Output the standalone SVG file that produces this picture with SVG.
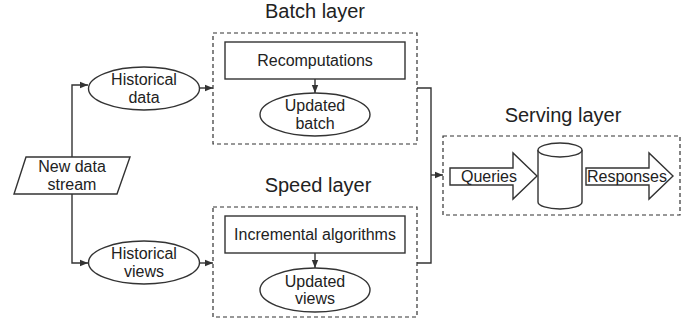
<svg xmlns="http://www.w3.org/2000/svg" width="700" height="323" viewBox="0 0 700 323">
<defs>
<style>
.s{fill:#fff;stroke:#333;stroke-width:1.4}
.d{fill:none;stroke:#333;stroke-width:1.2;stroke-dasharray:4 3}
.c{fill:none;stroke:#333;stroke-width:1.4}
.t{font-family:"Liberation Sans",Arial,sans-serif;font-size:16px;fill:#222;text-anchor:middle}
.h{font-family:"Liberation Sans",Arial,sans-serif;font-size:20px;fill:#222;text-anchor:middle}
</style>
<marker id="ar" viewBox="0 0 10 10" refX="10" refY="5" markerWidth="8" markerHeight="8" markerUnits="userSpaceOnUse" orient="auto">
<path d="M0,1 L10,5 L0,9 z" fill="#333"/>
</marker>
</defs>
<rect width="700" height="323" fill="#fff"/>
<g id="connectors">
<path class="c" d="M72,157 V85 H88" marker-end="url(#ar)"/>
<path class="c" d="M72,194 V263 H88" marker-end="url(#ar)"/>
<path class="c" d="M199,88 H213" marker-end="url(#ar)"/>
<path class="c" d="M199,263 H213" marker-end="url(#ar)"/>
<path class="c" d="M315,79 V93" marker-end="url(#ar)"/>
<path class="c" d="M315,253 V268" marker-end="url(#ar)"/>
<path class="c" d="M417,88 H431 V263 H417"/>
<path class="c" d="M431,175 H443" marker-end="url(#ar)"/>
</g>
<g id="batch-layer">
<text class="h" x="315" y="18">Batch layer</text>
<rect class="d" x="213" y="33" width="204" height="111"/>
</g>
<g id="speed-layer">
<text class="h" x="318" y="192">Speed layer</text>
<rect class="d" x="213" y="207" width="204" height="110"/>
</g>
<g id="serving-layer">
<text class="h" x="563" y="122">Serving layer</text>
<rect class="d" x="443" y="136" width="237" height="79"/>
</g>
<g id="new-data-stream">
<path class="s" d="M26,157 H130 L117,194 H14 z"/>
<text class="t" x="72" y="172">New data</text>
<text class="t" x="72" y="190">stream</text>
</g>
<g id="historical-data">
<ellipse class="s" cx="144" cy="88.5" rx="55.5" ry="21.5"/>
<text class="t" x="144" y="85">Historical</text>
<text class="t" x="144" y="103">data</text>
</g>
<g id="historical-views">
<ellipse class="s" cx="144" cy="262.5" rx="55.5" ry="21.5"/>
<text class="t" x="144" y="259">Historical</text>
<text class="t" x="144" y="277">views</text>
</g>
<g id="recomputations">
<rect class="s" x="225" y="42" width="180" height="37"/>
<text class="t" x="315" y="66">Recomputations</text>
</g>
<g id="updated-batch">
<ellipse class="s" cx="315" cy="114.5" rx="55" ry="21.5"/>
<text class="t" x="315" y="111">Updated</text>
<text class="t" x="315" y="129">batch</text>
</g>
<g id="incremental-algorithms">
<rect class="s" x="225" y="216" width="180" height="37"/>
<text class="t" x="315" y="240">Incremental algorithms</text>
</g>
<g id="updated-views">
<ellipse class="s" cx="315" cy="290" rx="55" ry="22"/>
<text class="t" x="315" y="287">Updated</text>
<text class="t" x="315" y="304">views</text>
</g>
<g id="queries">
<path class="s" d="M450,168 H513 V153 L537,176 L513,199 V185 H450 z"/>
<text class="t" x="489" y="182">Queries</text>
</g>
<g id="database">
<path class="s" d="M538,150 V202 A22,7 0 0 0 582,202 V150"/>
<ellipse class="s" cx="560" cy="150" rx="22" ry="7"/>
</g>
<g id="responses">
<path class="s" d="M586,168 H649 V153 L673,176 L649,199 V185 H586 z"/>
<text class="t" x="627" y="182">Responses</text>
</g>
</svg>
